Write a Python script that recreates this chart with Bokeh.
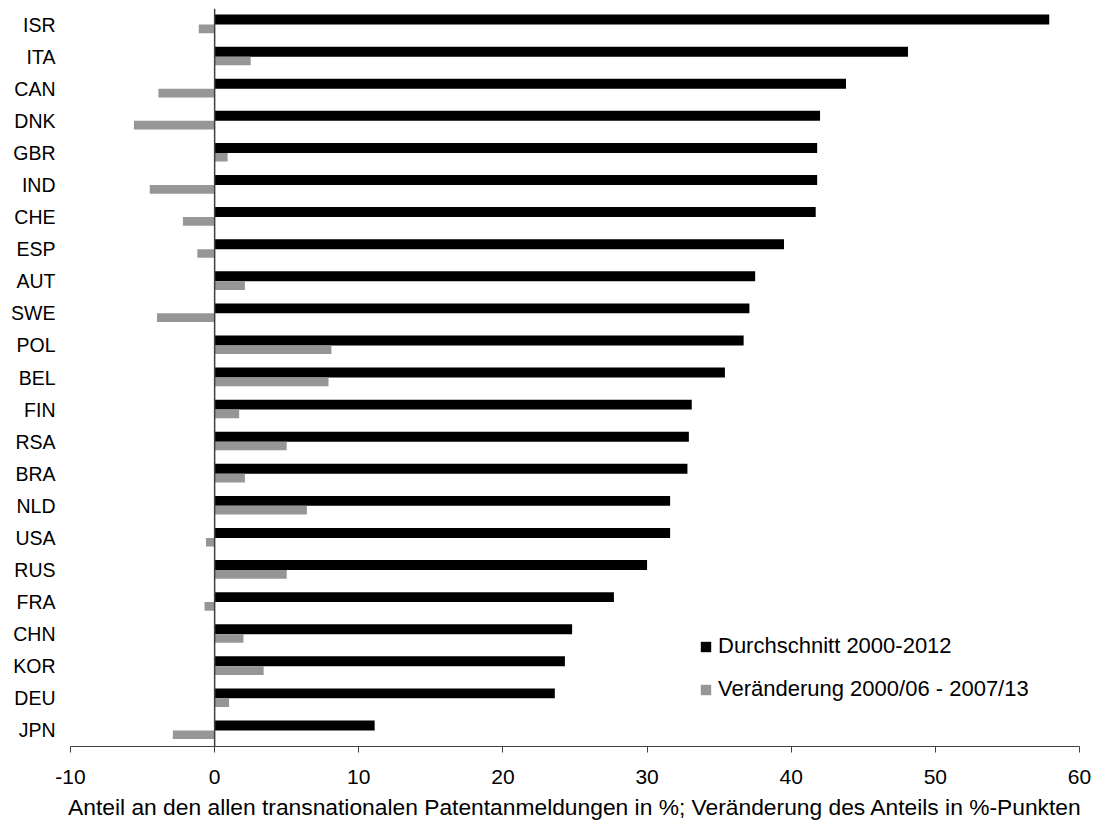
from bokeh.plotting import figure
from bokeh.models import (ColumnDataSource, FactorRange, Range1d, Span, Legend,
                          LegendItem, FixedTicker)
from bokeh.transform import dodge
from bokeh.embed import file_html
from bokeh.resources import INLINE

# ---- data (top to bottom as in the chart) ----
countries = ["ISR", "ITA", "CAN", "DNK", "GBR", "IND", "CHE", "ESP", "AUT", "SWE",
             "POL", "BEL", "FIN", "RSA", "BRA", "NLD", "USA", "RUS", "FRA", "CHN",
             "KOR", "DEU", "JPN"]
durchschnitt = [57.9, 48.1, 43.8, 42.0, 41.8, 41.8, 41.7, 39.5, 37.5, 37.1,
                36.7, 35.4, 33.1, 32.9, 32.8, 31.6, 31.6, 30.0, 27.7, 24.8,
                24.3, 23.6, 11.1]
veraenderung = [-1.1, 2.5, -3.9, -5.6, 0.9, -4.5, -2.2, -1.2, 2.1, -4.0,
                8.1, 7.9, 1.7, 5.0, 2.1, 6.4, -0.6, 5.0, -0.7, 2.0,
                3.4, 1.0, -2.9]
x_ticks = [-10, 0, 10, 20, 30, 40, 50, 60]
x_tick_labels = ["-10", "0", "10", "20", "30", "40", "50", "60"]
series_names = ["Durchschnitt 2000-2012", "Veränderung 2000/06 - 2007/13"]
x_title = ("Anteil an den allen transnationalen Patentanmeldungen in %; "
           "Veränderung des Anteils in %-Punkten")

FONT = "Liberation Sans"

src = ColumnDataSource(dict(cat=countries, avg=durchschnitt, chg=veraenderung))

y_range = FactorRange(factors=list(reversed(countries)), range_padding=0)

p = figure(width=1094, height=822, y_range=y_range, x_range=Range1d(-10, 60),
           output_backend="svg", toolbar_location=None,
           min_border_left=70, min_border_right=15, min_border_top=8,
           min_border_bottom=0)
p.outline_line_color = None
p.background_fill_color = "white"
p.xgrid.visible = False
p.ygrid.visible = False

r_avg = p.hbar(y=dodge("cat", 0.155, range=y_range), left=0, right="avg",
               height=0.31, source=src, fill_color="#000000", line_color=None)
r_chg = p.hbar(y=dodge("cat", -0.135, range=y_range), left=0, right="chg",
               height=0.27, source=src, fill_color="#969696", line_color=None)

p.add_layout(Span(location=0, dimension="height", line_color="#404040",
                  line_width=1.5))

# x axis
xa = p.xaxis[0]
xa.ticker = FixedTicker(ticks=x_ticks)
xa.major_label_overrides = {t: s for t, s in zip(x_ticks, x_tick_labels)}
xa.minor_tick_line_color = None
xa.major_tick_in = 0
xa.major_tick_out = 6
xa.axis_line_color = "#404040"
xa.major_tick_line_color = "#404040"
xa.major_label_text_font = FONT
xa.major_label_text_font_size = "21px"
xa.major_label_text_color = "black"
xa.major_label_standoff = 17
xa.axis_label = x_title
xa.axis_label_text_font = FONT
xa.axis_label_text_font_size = "22.8px"
xa.axis_label_text_font_style = "normal"
xa.axis_label_text_color = "black"
xa.axis_label_standoff = 7

# y axis (category labels)
ya = p.yaxis[0]
ya.axis_line_color = None
ya.major_tick_line_color = None
ya.minor_tick_line_color = None
ya.major_tick_out = 0
ya.major_tick_in = 0
ya.major_label_standoff = 15
ya.major_label_text_font = FONT
ya.major_label_text_font_size = "19.5px"
ya.major_label_text_color = "black"

legend = Legend(items=[LegendItem(label=series_names[0], renderers=[r_avg]),
                       LegendItem(label=series_names[1], renderers=[r_chg])],
                location=(629, 44), orientation="vertical",
                glyph_width=13, glyph_height=13, label_standoff=6,
                spacing=17, padding=0, margin=0,
                border_line_color=None, background_fill_alpha=0,
                label_text_font=FONT, label_text_font_size="22px",
                label_text_color="black")
p.add_layout(legend, "center")

open("out.html", "w").write(file_html(p, INLINE))
